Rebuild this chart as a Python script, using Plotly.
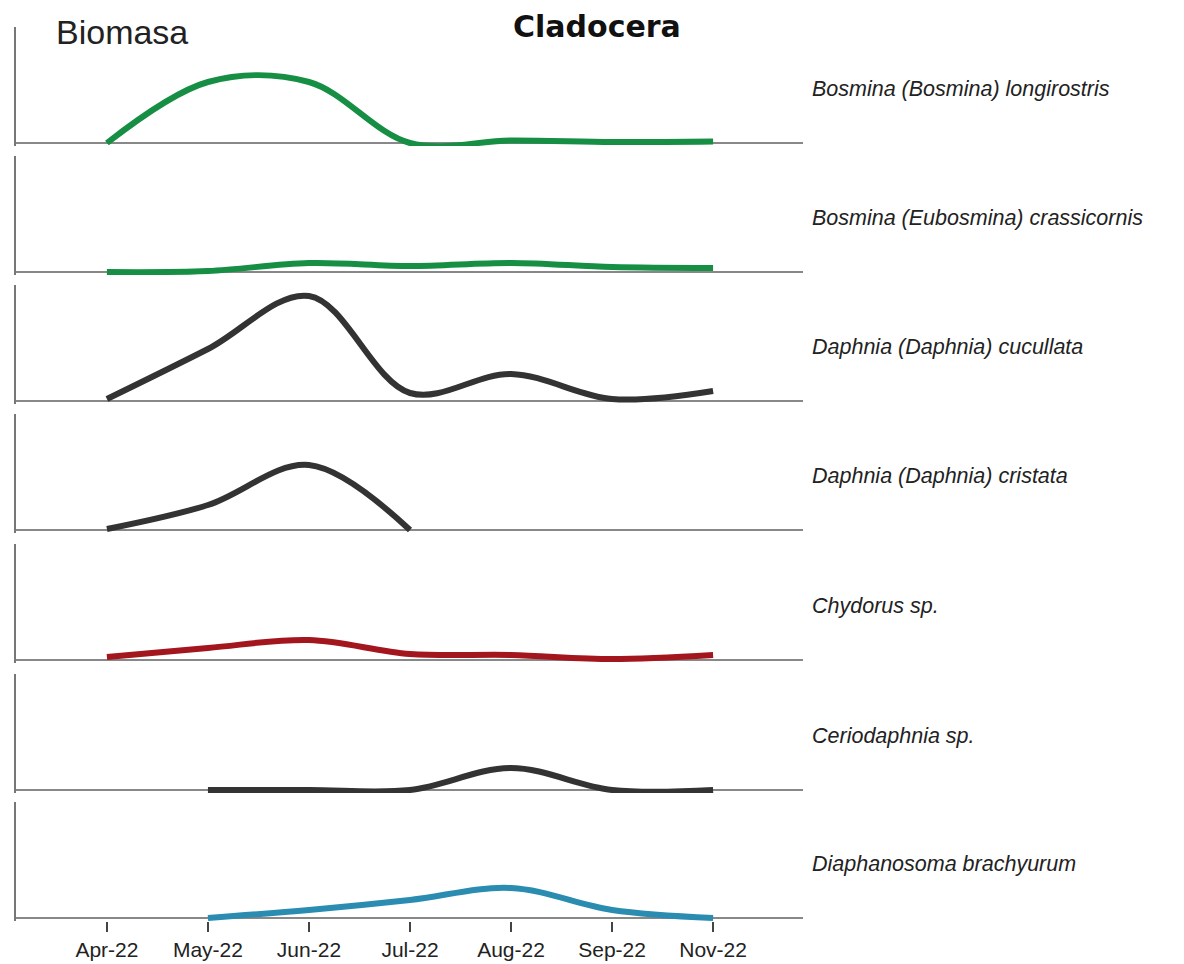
import plotly.graph_objects as go

# ---- data (biomass, arbitrary units) ----
months = ["Apr-22", "May-22", "Jun-22", "Jul-22", "Aug-22", "Sep-22", "Nov-22"]

species = [
    "Bosmina (Bosmina) longirostris",
    "Bosmina (Eubosmina) crassicornis",
    "Daphnia (Daphnia) cucullata",
    "Daphnia (Daphnia) cristata",
    "Chydorus sp.",
    "Ceriodaphnia sp.",
    "Diaphanosoma brachyurum",
]

bosmina_longirostris = [0, 61, 61, 0, 2.5, 1, 1.5]
bosmina_crassicornis = [0, 1, 9, 6, 9, 5, 4]
daphnia_cucullata = [2, 52, 105, 8, 27, 2, 10]
daphnia_cristata = [1, 25, 65, 0, None, None, None]
chydorus = [3, 12, 20, 6, 5, 1, 5]
ceriodaphnia = [None, 0, 0, 0, 22, 0, 0]
diaphanosoma = [None, 0, 8, 18, 30, 8, 0]

series = [bosmina_longirostris, bosmina_crassicornis, daphnia_cucullata,
          daphnia_cristata, chydorus, ceriodaphnia, diaphanosoma]
colors = ["#168f45", "#168f45", "#333333", "#333333", "#a3161d", "#333333", "#2a8cb0"]

# ---- layout geometry (page pixels; the page body adds an 8px offset) ----
W, H = 1184, 964
OFF = 8
baselines = [143, 272, 401, 530, 660, 790, 918]
YMAX, YMIN = 116, -3
x_left, x_right = 16 - OFF, 803 - OFF

fig = go.Figure()
n = len(species)
for i in range(n):
    ax = "" if i == 0 else str(i + 1)
    fig.add_trace(go.Scatter(
        x=months, y=series[i], mode="lines",
        line=dict(color=colors[i], width=6, shape="spline"),
        xaxis="x" + ax, yaxis="y" + ax, showlegend=False, hoverinfo="skip",
    ))
    B = baselines[i] - OFF
    top = B - YMAX
    bot = B - YMIN
    dom = [1 - bot / H, 1 - top / H]
    last = (i == n - 1)
    fig.layout["xaxis" + ax] = dict(
        domain=[x_left / W, x_right / W], anchor="y" + ax,
        type="category", categoryorder="array", categoryarray=months,
        range=[-0.9, 6.89], showgrid=False, zeroline=False, showline=False,
        ticks="outside" if last else "", ticklen=10, tickwidth=1.5, tickcolor="#444",
        showticklabels=last, tickfont=dict(family="Liberation Sans", size=21, color="#222"),
        automargin=False, fixedrange=True,
        matches=None if i == 0 else "x",
    )
    fig.layout["yaxis" + ax] = dict(
        domain=dom, anchor="x" + ax, range=[YMIN, YMAX],
        showgrid=False, showticklabels=False, ticks="",
        zeroline=True, zerolinecolor="#888", zerolinewidth=1.6,
        showline=True, linecolor="#777", linewidth=1.5,
        automargin=False, fixedrange=True,
    )
    fig.add_annotation(
        text=species[i], xref="paper", yref="paper",
        x=(810 - OFF) / W, y=1 - (B - YMAX / 2 + 4) / H, xanchor="left", yanchor="middle",
        showarrow=False,
        font=dict(family="Liberation Sans", size=21.5, color="#222", style="italic"),
    )

fig.add_annotation(text="Biomasa", xref="paper", yref="paper", x=(54 - OFF) / W, y=1 - (32 - OFF) / H,
                   xanchor="left", yanchor="middle", showarrow=False,
                   font=dict(family="Liberation Sans", size=34, color="#222"))
fig.add_annotation(text="<b>Cladocera</b>", xref="paper", yref="paper", x=(597 - OFF) / W, y=1 - (26 - OFF) / H,
                   xanchor="center", yanchor="middle", showarrow=False,
                   font=dict(family="DejaVu Sans", size=30, color="#111"))

fig.update_layout(
    width=W, height=H, margin=dict(l=0, r=0, t=0, b=0),
    paper_bgcolor="white", plot_bgcolor="white", template="none",
)
fig.write_html("out.html")
